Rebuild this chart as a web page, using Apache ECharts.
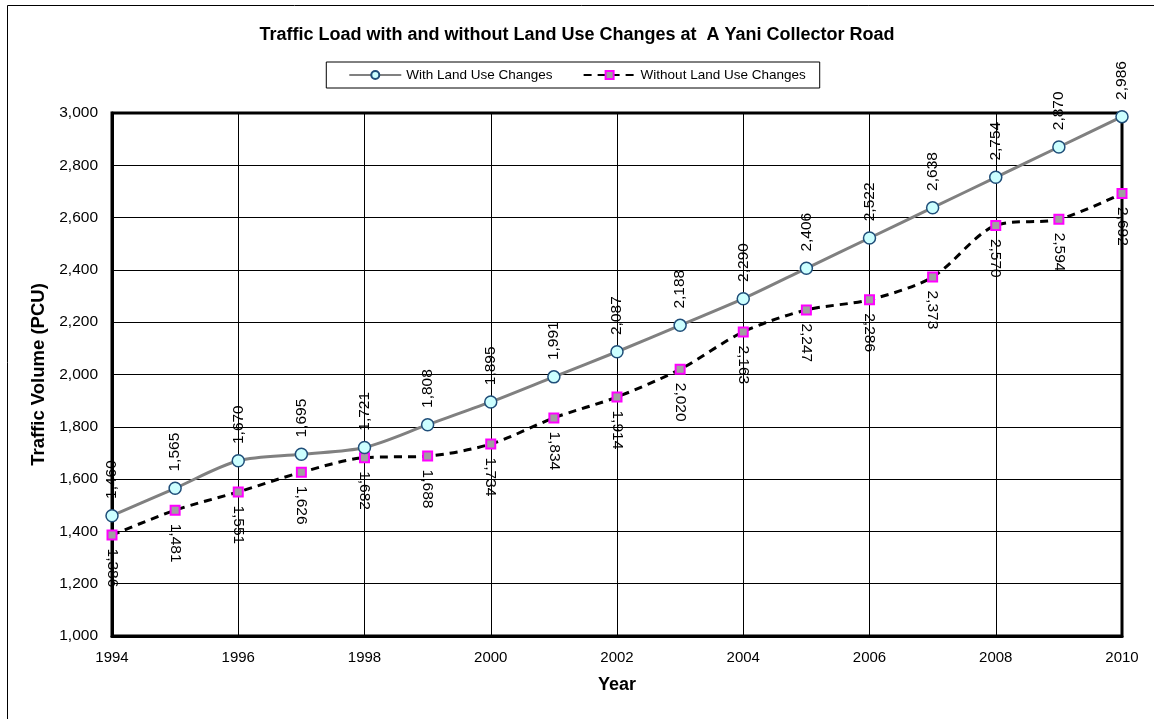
<!DOCTYPE html>
<html><head><meta charset="utf-8">
<script src="https://cdn.jsdelivr.net/npm/echarts@6/dist/echarts.min.js"></script>
<style>html,body{margin:0;padding:0;background:#fff}#c{width:1154px;height:719px}</style>
</head><body><div id="c"></div>
<script>
const years = [1994,1995,1996,1997,1998,1999,2000,2001,2002,2003,2004,2005,2006,2007,2008,2009,2010];
const withLUC = [1460,1565,1670,1695,1721,1808,1895,1991,2087,2188,2290,2406,2522,2638,2754,2870,2986];
const withoutLUC = [1386,1481,1551,1626,1682,1688,1734,1834,1914,2020,2163,2247,2286,2373,2570,2594,2692];
const seriesNames = ['With Land Use Changes','Without Land Use Changes'];
const titleText = 'Traffic Load with and without Land Use Changes at  A Yani Collector Road';

const fmt = v => v.toLocaleString('en-US');
const chart = echarts.init(document.getElementById('c'), null, {renderer:'canvas'});
chart.setOption({
  backgroundColor:'#fff',
  animation:false,
  graphic:[{type:'rect', shape:{x:7.5,y:5.5,width:1160,height:720}, style:{fill:'none',stroke:'#000',lineWidth:1}, z:-1}],
  title:{text:titleText, left:'center', top:21, textStyle:{fontFamily:'Liberation Sans Narrow, Liberation Sans, Arial', fontSize:18, fontWeight:'bold', color:'#000'}},
  legend:{
    top:62, left:'center', itemWidth:52, itemHeight:10, itemGap:30,
    padding:[6,14,6,22], borderColor:'#000', borderWidth:1,
    textStyle:{fontFamily:'Liberation Sans, Arial', fontSize:13.5, color:'#000'},
    data:seriesNames
  },
  grid:{left:112, right:32, top:113, bottom:83, show:true, borderColor:'#000', borderWidth:3},
  xAxis:{
    type:'value', min:1994, max:2010, interval:2,
    name:'Year', nameLocation:'middle', nameGap:40,
    nameTextStyle:{fontFamily:'Liberation Sans, Arial', fontSize:18, fontWeight:'bold', color:'#000'},
    axisLine:{lineStyle:{color:'#000', width:3}},
    axisTick:{show:false},
    axisLabel:{formatter:v=>String(v), fontFamily:'Liberation Sans, Arial', fontSize:15, color:'#000', margin:14},
    splitLine:{show:true, lineStyle:{color:'#000', width:1}}
  },
  yAxis:{
    type:'value', min:1000, max:3000, interval:200,
    name:'Traffic Volume (PCU)', nameLocation:'middle', nameGap:56,
    nameTextStyle:{fontFamily:'Liberation Sans, Arial', fontSize:18.5, fontWeight:'bold', color:'#000'},
    axisLine:{show:true, lineStyle:{color:'#000', width:3}},
    axisTick:{show:false},
    axisLabel:{formatter:v=>fmt(v), fontFamily:'Liberation Sans, Arial', fontSize:15.5, color:'#000', margin:14},
    splitLine:{show:true, lineStyle:{color:'#000', width:1}}
  },
  series:[
    {
      name:seriesNames[0], type:'line', smooth:0.3,
      data:years.map((y,i)=>[y,withLUC[i]]),
      lineStyle:{color:'#808080', width:3},
      symbol:'circle', symbolSize:12,
      itemStyle:{color:'#ccffff', borderColor:'#1f4e79', borderWidth:1.5},
      label:{show:true, position:'top', distance:10, rotate:90, align:'left', verticalAlign:'middle',
        formatter:p=>fmt(p.value[1]), fontFamily:'Liberation Sans, Arial', fontSize:15.5, color:'#000'},
      z:3
    },
    {
      name:seriesNames[1], type:'line', smooth:0.3,
      data:years.map((y,i)=>[y,withoutLUC[i]]),
      lineStyle:{color:'#000', width:3, type:[8,6]},
      symbol:'rect', symbolSize:9,
      itemStyle:{color:'#a0a0a0', borderColor:'#ff00ff', borderWidth:2},
      label:{show:true, position:'bottom', distance:8, rotate:-90, align:'left', verticalAlign:'middle',
        formatter:p=>fmt(p.value[1]), fontFamily:'Liberation Sans, Arial', fontSize:15.5, color:'#000'},
      z:2
    }
  ]
});
</script></body></html>
